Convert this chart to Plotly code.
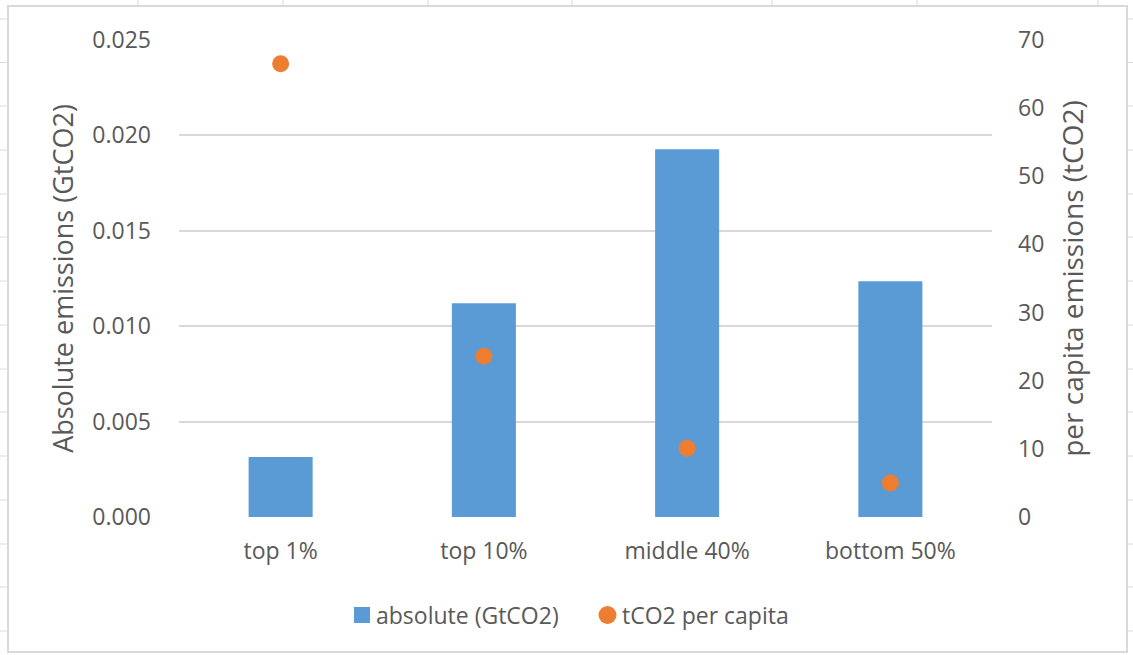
import plotly.graph_objects as go

# Emissions by income group
groups = ["top 1%", "top 10%", "middle 40%", "bottom 50%"]
absolute_gtco2 = [0.00315, 0.0112, 0.01927, 0.01235]
per_capita_tco2 = [66.5, 23.6, 10.1, 5.0]

series_names = ["absolute (GtCO2)", "tCO2 per capita"]

y_left_ticks = [0.000, 0.005, 0.010, 0.015, 0.020, 0.025]
y_left_labels = ["0.000", "0.005", "0.010", "0.015", "0.020", "0.025"]
y_right_ticks = [0, 10, 20, 30, 40, 50, 60, 70]

W, H = 1133, 655
ML, MR, MT, MB = 179, 141, 40, 138
PW, PH = W - ML - MR, H - MT - MB

BLUE = "#5B9BD5"
ORANGE = "#ED7D31"
TEXT = "#595959"
GRID = "#D9D9D9"
FONT = "Open Sans"


def px_x(px):
    return (px - ML) / PW


def px_y(py):
    return (H - MB - py) / PH


fig = go.Figure()

fig.add_trace(go.Bar(
    x=groups, y=absolute_gtco2, name=series_names[0],
    marker=dict(color=BLUE, line=dict(width=0)), width=0.315,
    yaxis="y", showlegend=False,
))
fig.add_trace(go.Scatter(
    x=groups, y=per_capita_tco2, name=series_names[1],
    mode="markers", marker=dict(color=ORANGE, size=17),
    yaxis="y2", showlegend=False,
))

# chart frame and the sheet's cell lines around it
shapes = [dict(type="rect", xref="paper", yref="paper",
               x0=px_x(8), x1=px_x(1127), y0=px_y(6), y1=px_y(652),
               line=dict(color=GRID, width=2), layer="below")]
for cx in [138, 283, 428, 572, 772, 917, 1098]:
    shapes.append(dict(type="line", xref="paper", yref="paper",
                       x0=px_x(cx), x1=px_x(cx), y0=px_y(0), y1=px_y(5),
                       line=dict(color="#DADADA", width=1)))
for ry in [19, 62.5, 106, 150, 194, 237, 281, 325, 369, 412, 456, 500, 544, 587, 631]:
    shapes.append(dict(type="line", xref="paper", yref="paper",
                       x0=px_x(0), x1=px_x(7), y0=px_y(ry), y1=px_y(ry),
                       line=dict(color="#DADADA", width=1)))
    shapes.append(dict(type="line", xref="paper", yref="paper",
                       x0=px_x(1128), x1=px_x(1133), y0=px_y(ry), y1=px_y(ry),
                       line=dict(color="#DADADA", width=1)))

# legend: key symbols plus labels, along the bottom
LEG_Y = 615
shapes.append(dict(type="rect", xref="paper", yref="paper",
                   x0=px_x(354), x1=px_x(370), y0=px_y(LEG_Y - 8), y1=px_y(LEG_Y + 8),
                   fillcolor=BLUE, line=dict(width=0)))
shapes.append(dict(type="circle", xref="paper", yref="paper",
                   x0=px_x(598.5), x1=px_x(616.5), y0=px_y(LEG_Y - 9), y1=px_y(LEG_Y + 9),
                   fillcolor=ORANGE, line=dict(width=0)))
annotations = [
    dict(text=series_names[0], xref="paper", yref="paper",
         x=px_x(374), y=px_y(LEG_Y), xanchor="left", yanchor="middle",
         showarrow=False, font=dict(family=FONT, size=23, color=TEXT)),
    dict(text=series_names[1], xref="paper", yref="paper",
         x=px_x(620), y=px_y(LEG_Y), xanchor="left", yanchor="middle",
         showarrow=False, font=dict(family=FONT, size=23, color=TEXT)),
]

fig.update_layout(
    width=W, height=H,
    margin=dict(l=ML, r=MR, t=MT, b=MB, autoexpand=False),
    paper_bgcolor="white", plot_bgcolor="white",
    font=dict(family=FONT, size=23, color=TEXT),
    bargap=0.685,
    showlegend=False,
    xaxis=dict(
        showgrid=False, showline=False, zeroline=False,
        ticks="", ticklabelstandoff=18,
        tickfont=dict(size=23, color=TEXT),
    ),
    yaxis=dict(
        range=[0, 0.025], tickvals=y_left_ticks, ticktext=y_left_labels,
        showgrid=True, gridcolor=GRID, gridwidth=1.5,
        zeroline=False, showline=False, ticks="",
        ticklabelstandoff=27,
        tickfont=dict(size=23, color=TEXT),
        title=dict(text="Absolute emissions (GtCO2)", standoff=10,
                   font=dict(size=27, color=TEXT)),
    ),
    yaxis2=dict(
        range=[0, 70], tickvals=y_right_ticks,
        overlaying="y", side="right",
        showgrid=False, zeroline=False, showline=False, ticks="",
        ticklabelstandoff=25,
        tickfont=dict(size=23, color=TEXT),
        title=dict(text="per capita emissions (tCO2)", standoff=20,
                   font=dict(size=28, color=TEXT)),
    ),
    shapes=shapes,
    annotations=annotations,
)

fig.write_html("out.html")
